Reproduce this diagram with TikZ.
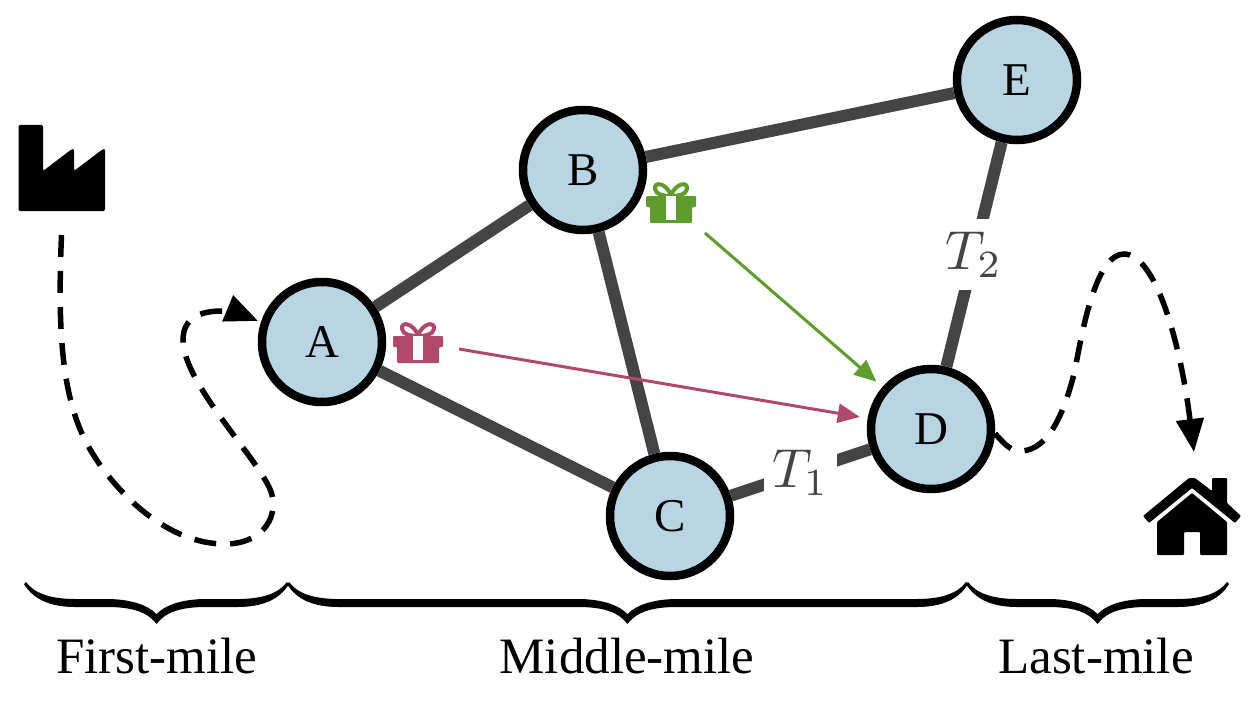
\documentclass[tikz,border=0pt]{standalone}
\usepackage{fix-cm}
\usepackage{graphicx}
\usepackage{fontspec}
\setmainfont{Liberation Serif}
\usetikzlibrary{arrows.meta}
\definecolor{nodeblue}{HTML}{B9D5E4}
\definecolor{edgegray}{HTML}{444444}
\definecolor{giftpink}{HTML}{B04A6C}
\definecolor{giftgreen}{HTML}{5F9B2D}
\newcommand{\mybrace}[2]{%
  \pgfmathsetmacro{\xa}{#1}\pgfmathsetmacro{\xb}{#2}\pgfmathsetmacro{\xm}{(#1+#2)/2}%
  \fill[black]
    (\xa-1,584) .. controls (\xa+8,599) and (\xa+25,607) .. (\xa+50,607)
    -- (\xm-50,607) .. controls (\xm-24,607) and (\xm-9,612) .. (\xm,624)
    .. controls (\xm+9,612) and (\xm+24,607) .. (\xm+50,607)
    -- (\xb-50,607) .. controls (\xb-25,607) and (\xb-8,599) .. (\xb+1,584)
    -- (\xb-1,582) .. controls (\xb-9,593) and (\xb-25,599) .. (\xb-50,599)
    -- (\xm+50,599) .. controls (\xm+28,599) and (\xm+10,604) .. (\xm,614)
    .. controls (\xm-10,604) and (\xm-28,599) .. (\xm-50,599)
    -- (\xa+50,599) .. controls (\xa+25,599) and (\xa+9,593) .. (\xa+1,582) -- cycle;
}
\newcommand{\giftat}[3]{%
  \begin{scope}[shift={(#1,#2)}]
    \draw[#3,line width=4pt] (418,335) .. controls (413,323) and (401,321) .. (402,329) .. controls (403,335) and (411,336) .. (418,336);
    \draw[#3,line width=4pt] (418,335) .. controls (423,323) and (435,321) .. (434,329) .. controls (433,335) and (425,336) .. (418,336);
    \fill[#3,rounded corners=1pt] (393,336) -- (443,336) -- (443,347) -- (439,347) -- (439,363) -- (397,363) -- (397,347) -- (393,347) -- cycle;
    \fill[white] (413,336) rectangle (423,360);
  \end{scope}
}
\tikzset{
  netnode/.style={circle,draw=black,fill=nodeblue,line width=8.5pt,minimum size=120pt,inner sep=0pt,font=\fontsize{47}{56}\selectfont},
  netedge/.style={edgegray,line width=12pt},
  timelabel/.style={fill=white,text=edgegray,inner xsep=8pt,inner ysep=13pt},
  milepath/.style={black,line width=5.5pt,dash pattern=on 22pt off 14pt,-{Triangle[length=33pt,width=27pt]}},
  shipment/.style={line width=3pt,-{Triangle[length=22pt,width=19pt]},shorten >=8pt},
  milelabel/.style={anchor=base,font=\fontsize{51}{61}\selectfont}
}
\begin{document}
\begin{tikzpicture}[x=1pt,y=-1pt]
  \path[use as bounding box,fill=white] (0,0) rectangle (1250,706);

  \node[netnode] (A) at (322,342) {\raisebox{-1pt}{A}};
  \node[netnode] (B) at (583,170) {\raisebox{-1pt}{B}};
  \node[netnode] (C) at (670,516) {\raisebox{-1pt}{C}};
  \node[netnode] (D) at (931,429) {\raisebox{-1pt}{D}};
  \node[netnode] (E) at (1017,80) {\raisebox{-1pt}{E}};

  \draw[netedge] (A) -- (B);
  \draw[netedge] (A) -- (C);
  \draw[netedge] (B) -- (C);
  \draw[netedge] (B) -- (E);
  \draw[netedge] (C) -- node[timelabel] (T1) {\scalebox{5.5}{\normalsize $T_1$}} (D);
  \draw[netedge] (D) -- node[timelabel] (T2) {\scalebox{5.5}{\normalsize $T_2$}} (E);

  % factory icon
  \fill[black,rounded corners=1.5pt] (18.5,125) -- (43,125) -- (43,171) -- (72,149) -- (74,149) -- (74,171) -- (103,149) -- (105,149) -- (105,211) -- (18.5,211) -- cycle;
  % house icon
  \fill[black,rounded corners=1pt] (1143,516) -- (1189,478) -- (1195,478) -- (1212,491) -- (1212,478) -- (1227,478) -- (1227,503) -- (1241,516) -- (1235,523) -- (1192,488) -- (1149,523) -- cycle;
  \fill[black,rounded corners=1pt] (1157,522) -- (1192,493) -- (1227,522) -- (1227,555) -- (1200,555) -- (1200,532) -- (1184,532) -- (1184,555) -- (1157,555) -- cycle;

  \giftat{0}{0}{giftpink}
  \giftat{253}{-140}{giftgreen}

  \coordinate (fstart) at (61.5,235);
  \coordinate (pstart) at (459,349);
  \coordinate (gstart) at (705,233);
  \coordinate (hend) at (1194,452);

  \draw[shipment,giftpink] (pstart) -- (D);
  \draw[shipment,giftgreen] (gstart) -- (D);

  \draw[milepath,shorten >=3pt] (fstart) .. controls (58,320) and (60,390) .. (85,440)
    .. controls (105,480) and (160,544) .. (225,544)
    .. controls (260,544) and (278,520) .. (272,495)
    .. controls (265,465) and (183,385) .. (183,340)
    .. controls (183,318) and (200,311) .. (222,311)
    .. controls (232,311) and (243,314.7) .. (A.162);
  \draw[milepath] (D.-4) .. controls (1005,445) and (1012,452) .. (1022,451)
    .. controls (1050,449) and (1065,410) .. (1075,370)
    .. controls (1083,325) and (1097,254) .. (1124,254)
    .. controls (1155,254) and (1180,340) .. (hend);

  \mybrace{25}{288}
  \mybrace{288}{967}
  \mybrace{967}{1228}

  \node[milelabel] (first) at (157,673) {First-mile};
  \node[milelabel] (middle) at (627,673) {Middle-mile};
  \node[milelabel] (last) at (1096,673) {Last-mile};
\end{tikzpicture}
\end{document}
